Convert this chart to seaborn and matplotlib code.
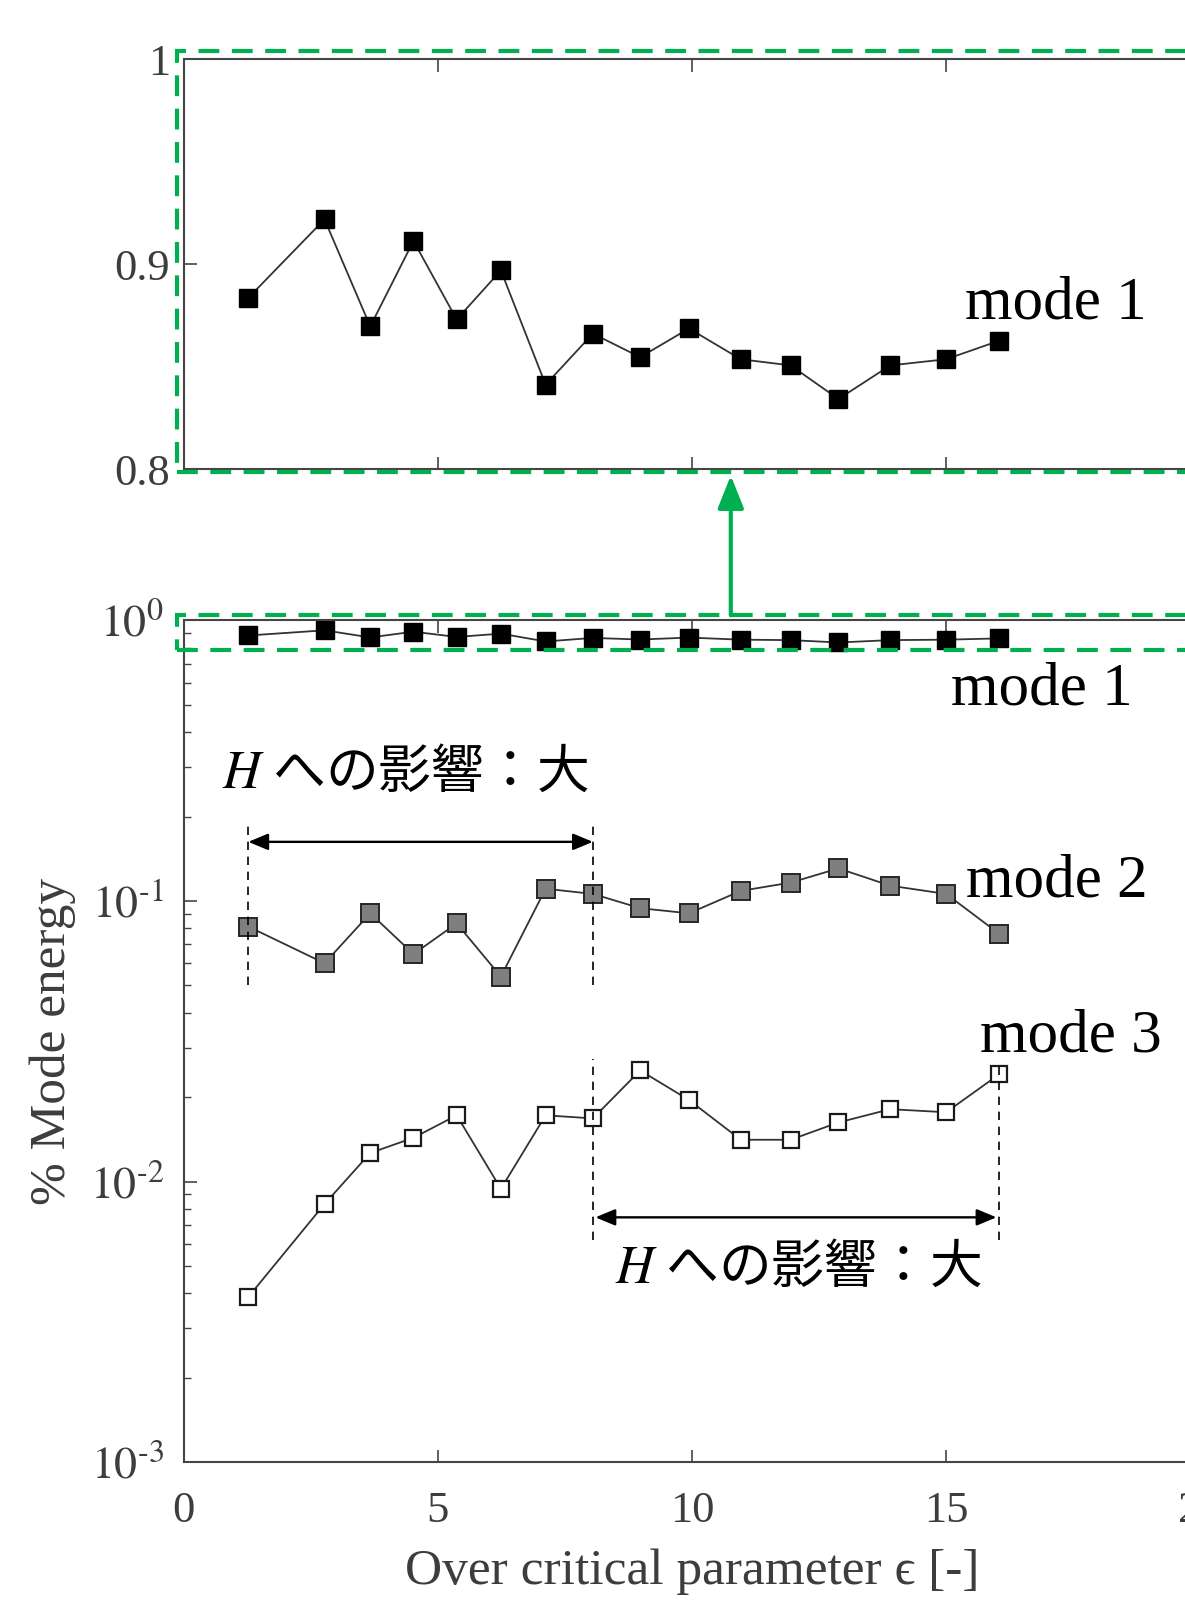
import matplotlib
matplotlib.use('Agg')
import matplotlib.pyplot as plt
import seaborn as sns
from matplotlib.patches import Rectangle, FancyArrowPatch
from matplotlib.ticker import FixedLocator, FixedFormatter, NullFormatter, LogLocator

# ---------------- data ----------------
eps = [1.27, 2.77, 3.67, 4.52, 5.37, 6.24, 7.12, 8.05, 8.98, 9.94, 10.96, 11.94, 12.88, 13.90, 15.00, 16.04]
mode1 = [0.8836, 0.9219, 0.8697, 0.9114, 0.8731, 0.8970, 0.8413, 0.8662,
         0.8547, 0.8687, 0.8537, 0.8507, 0.8343, 0.8507, 0.8537, 0.8627]
mode2 = [0.0811, 0.0600, 0.0904, 0.0647, 0.0832, 0.0538, 0.1106, 0.1060,
         0.0943, 0.0904, 0.1087, 0.1163, 0.1307, 0.1134, 0.1060, 0.0765]
mode3 = [0.00388, 0.00832, 0.01265, 0.01433, 0.01723, 0.00943, 0.01723, 0.0168,
         0.0249, 0.01954, 0.0141, 0.0141, 0.01625, 0.01812, 0.01767, 0.0241]

xticks = [0, 5, 10, 15, 20]
xticklabels = ['0', '5', '10', '15', '20']
top_yticks = [0.8, 0.9, 1.0]
top_yticklabels = ['0.8', '0.9', '1']
bot_yticks = [1e-3, 1e-2, 1e-1, 1e0]
bot_yticklabels = ['$10^{\\text{-}3}$', '$10^{\\text{-}2}$', '$10^{\\text{-}1}$', '$10^{0}$']

xlabel = 'Over critical parameter ϵ [-]'
ylabel = '% Mode energy'
jp_label = '$H$ への影響：大'
mode_labels = ['mode 1', 'mode 2', 'mode 3']

# ---------------- style ----------------
sns.set_style('white')
plt.rcParams['font.family'] = ['Liberation Serif', 'DejaVu Serif']
plt.rcParams['mathtext.fontset'] = 'stix'

GREEN = '#00B050'
AXC = '#454545'
LINEC = '#333333'
TXTC = '#3d3d3d'

fig = plt.figure(figsize=(11.85, 16), dpi=100)
fig.patch.set_facecolor('white')

W = 1161.0
H = 1568.0
def fx(px):
    return px / W
def fy(py):
    return 1 - py / H

left = fx(180)
right = fx(1176)
ax1 = fig.add_axes([left, fy(460), right - left, fy(58) - fy(460)])
ax2 = fig.add_axes([left, fy(1433), right - left, fy(608) - fy(1433)])

for ax in (ax1, ax2):
    for sp in ax.spines.values():
        sp.set_color(AXC)
        sp.set_linewidth(1.5)
    ax.set_facecolor('white')

# ---------------- top panel (zoom of mode 1) ----------------
sns.lineplot(x=eps, y=mode1, ax=ax1, color=LINEC, linewidth=1.3, marker='s',
             markersize=13, markerfacecolor='black', markeredgecolor='black',
             markeredgewidth=1, errorbar=None)
ax1.set_xlim(0, 20)
ax1.set_ylim(0.8, 1.0)
ax1.xaxis.set_major_locator(FixedLocator(xticks))
ax1.xaxis.set_major_formatter(NullFormatter())
ax1.yaxis.set_major_locator(FixedLocator(top_yticks))
ax1.yaxis.set_major_formatter(FixedFormatter(top_yticklabels))
ax1.tick_params(which='major', direction='in', length=9, width=1.2, color=AXC,
                top=True, right=True, bottom=True, left=True,
                labelsize=32, labelcolor=TXTC, pad=10)
ax1.set_xlabel('')
ax1.set_ylabel('')
ax1.text(15.38, 0.8736, mode_labels[0], fontsize=44, color='black',
         ha='left', va='baseline')

# ---------------- bottom panel (log scale) ----------------
ax2.set_yscale('log')
sns.lineplot(x=eps, y=mode1, ax=ax2, color=LINEC, linewidth=1.3, marker='s',
             markersize=13, markerfacecolor='black', markeredgecolor='black',
             markeredgewidth=1, errorbar=None)
sns.lineplot(x=eps, y=mode2, ax=ax2, color=LINEC, linewidth=1.3, marker='s',
             markersize=13, markerfacecolor='#7f7f7f', markeredgecolor='#262626',
             markeredgewidth=1.4, errorbar=None)
sns.lineplot(x=eps, y=mode3, ax=ax2, color=LINEC, linewidth=1.3, marker='s',
             markersize=11.5, markerfacecolor='white', markeredgecolor='#1a1a1a',
             markeredgewidth=1.6, errorbar=None)
ax2.set_xlim(0, 20)
ax2.set_ylim(1e-3, 1e0)
ax2.xaxis.set_major_locator(FixedLocator(xticks))
ax2.xaxis.set_major_formatter(FixedFormatter(xticklabels))
ax2.yaxis.set_major_locator(FixedLocator(bot_yticks))
ax2.yaxis.set_major_formatter(FixedFormatter(bot_yticklabels))
ax2.yaxis.set_minor_locator(LogLocator(base=10, subs=[2, 3, 4, 5, 6, 7, 8, 9], numticks=20))
ax2.yaxis.set_minor_formatter(NullFormatter())
ax2.tick_params(axis='x', which='major', direction='in', length=9, width=1.2, color=AXC,
                top=True, bottom=True, labelsize=32, labelcolor=TXTC, pad=21)
ax2.tick_params(axis='y', which='major', direction='in', length=9, width=1.2, color=AXC,
                left=True, right=True, labelsize=33, labelcolor=TXTC, pad=14)
ax2.tick_params(axis='y', which='minor', direction='in', length=5, width=1.0, color=AXC,
                left=True, right=True)
ax2.set_xlabel(xlabel, fontsize=37, color=TXTC, labelpad=12)
ax2.set_ylabel(ylabel, fontsize=37, color=TXTC, labelpad=10)

ax2.text(15.10, 0.503, mode_labels[0], fontsize=44, color='black', ha='left', va='baseline')
ax2.text(15.40, 0.1042, mode_labels[1], fontsize=44, color='black', ha='left', va='baseline')
ax2.text(15.66, 0.0292, mode_labels[2], fontsize=44, color='black', ha='left', va='baseline')

# annotations: H への影響：大
ax2.text(0.76, 0.2533, jp_label, fontsize=38, color='black', ha='left', va='baseline',
         family=['Noto Sans CJK JP', 'DejaVu Sans'])
ax2.text(8.49, 0.004365, jp_label, fontsize=38, color='black', ha='left', va='baseline',
         family=['Noto Sans CJK JP', 'DejaVu Sans'])

dash = (0, (5, 4))
x_a, x_b, x_c = eps[0], eps[7], eps[15]
# first range
ax2.plot([x_a, x_a], [0.0503, 0.1874], color='black', lw=1.2, linestyle=dash)
ax2.plot([x_b, x_b], [0.0503, 0.1874], color='black', lw=1.2, linestyle=dash)
ax2.annotate('', xy=(x_b, 0.1625), xytext=(x_a, 0.1625),
             arrowprops=dict(arrowstyle='<|-|>,head_length=0.6,head_width=0.25',
                             color='black', lw=1.7, shrinkA=0, shrinkB=0,
                             mutation_scale=20))
# second range
ax2.plot([x_b, x_b], [0.00621, 0.02732], color='black', lw=1.2, linestyle=dash)
ax2.plot([x_c, x_c], [0.00621, 0.02576], color='black', lw=1.2, linestyle=dash)
ax2.annotate('', xy=(x_c - 0.05, 0.00746), xytext=(x_b + 0.05, 0.00746),
             arrowprops=dict(arrowstyle='<|-|>,head_length=0.6,head_width=0.25',
                             color='black', lw=1.7, shrinkA=0, shrinkB=0,
                             mutation_scale=20))

# ---------------- green zoom indicators ----------------
gdash = (0, (5, 3))
r1 = Rectangle((fx(173), fy(463)), 1.2, fy(50) - fy(463), transform=fig.transFigure,
               fill=False, edgecolor=GREEN, lw=3, linestyle=gdash, clip_on=False, zorder=10)
r2 = Rectangle((fx(173), fy(637)), 1.2, fy(603) - fy(637), transform=fig.transFigure,
               fill=False, edgecolor=GREEN, lw=3, linestyle=gdash, clip_on=False, zorder=10)
fig.add_artist(r1)
fig.add_artist(r2)
arr = FancyArrowPatch((fx(716), fy(603)), (fx(716), fy(466)), transform=fig.transFigure,
                      arrowstyle='-|>,head_length=1.0,head_width=0.4', mutation_scale=20,
                      color=GREEN, lw=3, shrinkA=0, shrinkB=0, zorder=11)
fig.add_artist(arr)

fig.savefig('out.png', dpi=100)
